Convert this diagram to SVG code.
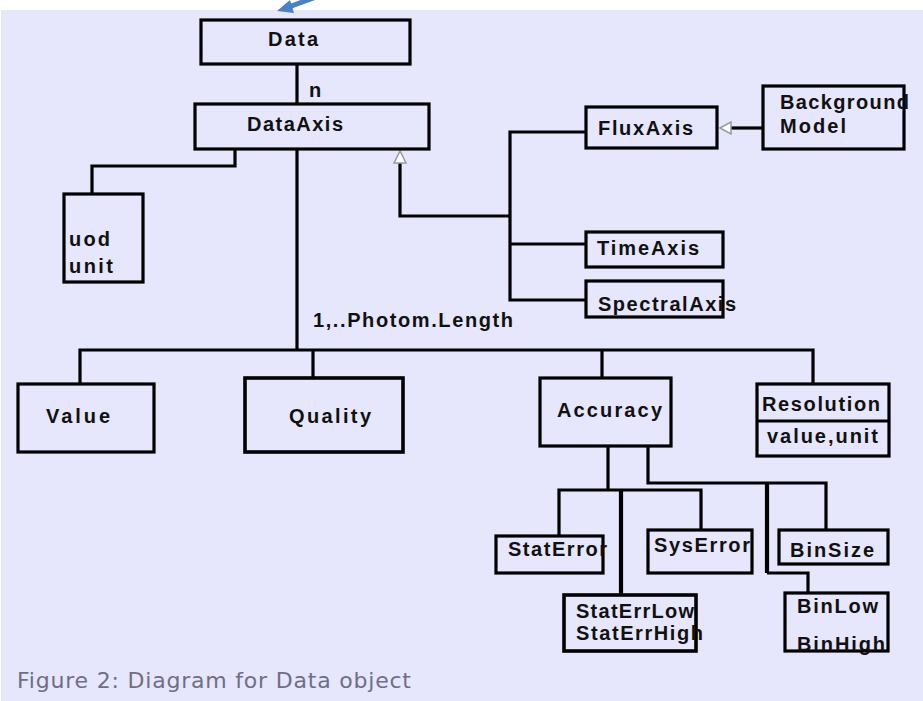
<svg xmlns="http://www.w3.org/2000/svg" width="923" height="701" viewBox="0 0 923 701">
<defs>
<style>
.box{fill:none;stroke:#000;stroke-width:3.2}
.conn{fill:none;stroke:#000;stroke-width:3.2}
.thick{fill:none;stroke:#000;stroke-width:4.2}
.tri{fill:#fff;stroke:#999;stroke-width:1.5}
.lbl{font-family:"Liberation Sans",Arial,sans-serif;font-weight:bold;font-size:20px;fill:#111}
.cap{font-family:"DejaVu Sans","Liberation Sans",sans-serif;font-size:22px;fill:#6e6e88}
</style>
</defs>
<rect x="0" y="0" width="923" height="701" fill="#fff"/>
<rect x="1" y="10" width="922" height="691" fill="#E6E6FC"/>
<g id="pointer">
<line x1="316" y1="-3" x2="286" y2="8" stroke="#4a80c8" stroke-width="5"/>
<polygon points="277,11 290,0 294,13" fill="#4a80c8"/>
</g>
<g id="connectors">
<path class="conn" d="M297,64 V104"/>
<path class="conn" d="M235,149 V166 H92 V194"/>
<path class="conn" d="M297,149 V350"/>
<path class="conn" d="M80,384 V350 H813 V384"/>
<path class="conn" d="M313,350 V378"/>
<path class="conn" d="M602,350 V378"/>
<path class="conn" d="M400,163 V216 H510"/>
<path class="conn" d="M586,132 H510 V300 H586"/>
<path class="conn" d="M510,244 H586"/>
<polygon class="tri" points="400,151 394,163 406,163"/>
<path class="conn" d="M731,128 H763"/>
<polygon class="tri" points="720,128 731,122 731,134"/>
<path class="conn" d="M608,446 V490"/>
<path class="conn" d="M559,536 V490 H701 V530"/>
<path class="thick" d="M621,490 V595"/>
<path class="conn" d="M648,446 V483 H826 V530"/>
<path class="thick" d="M767,483 V573"/>
<path class="conn" d="M767,573 H808 V593"/>
</g>
<g id="data"><rect class="box" x="201" y="20" width="209" height="44"/><text class="lbl" x="268" y="46" textLength="50">Data</text></g>
<g id="n-label"><text class="lbl" x="309" y="97">n</text></g>
<g id="dataaxis"><rect class="box" x="195" y="104" width="234" height="45"/><text class="lbl" x="247" y="131" textLength="96">DataAxis</text></g>
<g id="fluxaxis"><rect class="box" x="586" y="107" width="131" height="41"/><text class="lbl" x="598" y="135" textLength="95">FluxAxis</text></g>
<g id="background"><rect class="box" x="763" y="86" width="141" height="63"/><text class="lbl" x="780" y="109" textLength="129">Background</text><text class="lbl" x="780" y="133" textLength="66">Model</text></g>
<g id="timeaxis"><rect class="box" x="586" y="232" width="137" height="35"/><text class="lbl" x="597" y="255" textLength="102">TimeAxis</text></g>
<g id="spectralaxis"><rect class="box" x="586" y="281" width="137" height="36"/><text class="lbl" x="598" y="311" textLength="138">SpectralAxis</text></g>
<g id="uod"><rect class="box" x="64" y="194" width="79" height="88"/><text class="lbl" x="69" y="246" textLength="41">uod</text><text class="lbl" x="69" y="273" textLength="44">unit</text></g>
<g id="mult-label"><text class="lbl" x="313" y="327" textLength="200">1,..Photom.Length</text></g>
<g id="value"><rect class="box" x="18" y="384" width="136" height="68"/><text class="lbl" x="46" y="423" textLength="64">Value</text></g>
<g id="quality"><rect class="box" x="245" y="378" width="158" height="74" style="stroke-width:3.6"/><text class="lbl" x="289" y="423" textLength="82">Quality</text></g>
<g id="accuracy"><rect class="box" x="540" y="378" width="131" height="68"/><text class="lbl" x="557" y="417" textLength="105">Accuracy</text></g>
<g id="resolution"><rect class="box" x="757" y="384" width="132" height="72"/><line class="conn" x1="757" y1="421" x2="889" y2="421"/><text class="lbl" x="762" y="411" textLength="118">Resolution</text><text class="lbl" x="767" y="443" textLength="111">value,unit</text></g>
<g id="staterror"><rect class="box" x="496" y="536" width="107" height="37"/><text class="lbl" x="508" y="556" textLength="99">StatError</text></g>
<g id="syserror"><rect class="box" x="648" y="530" width="104" height="43"/><text class="lbl" x="654" y="552" textLength="96">SysError</text></g>
<g id="binsize"><rect class="box" x="779" y="530" width="109" height="34"/><text class="lbl" x="790" y="557" textLength="84">BinSize</text></g>
<g id="staterrlow"><rect class="box" x="564" y="595" width="132" height="56" style="stroke-width:3.6"/><text class="lbl" x="576" y="618" textLength="118">StatErrLow</text><text class="lbl" x="576" y="640" textLength="127">StatErrHigh</text></g>
<g id="binlow"><rect class="box" x="785" y="593" width="103" height="58"/><text class="lbl" x="797" y="613" textLength="81">BinLow</text><text class="lbl" x="797" y="651" textLength="88">BinHigh</text></g>
<text class="cap" x="17" y="688" textLength="394">Figure 2: Diagram for Data object</text>
</svg>
